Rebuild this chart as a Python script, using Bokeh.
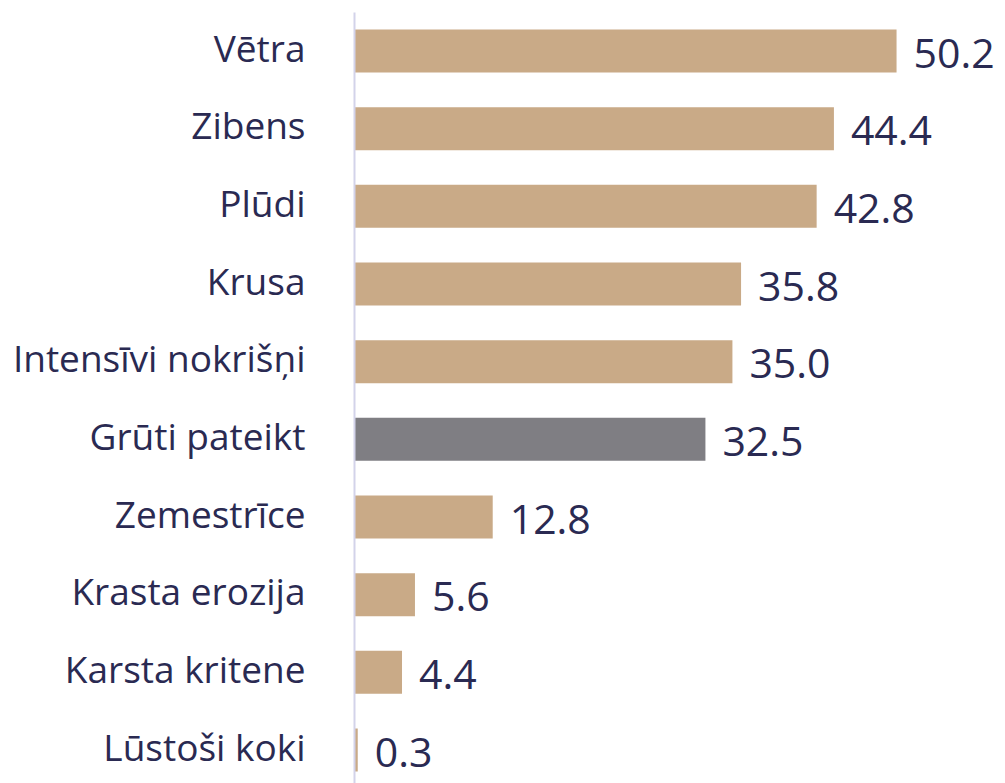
from bokeh.plotting import figure
from bokeh.models import ColumnDataSource, Range1d, FixedTicker, CustomJSTickFormatter
from bokeh.core.properties import value
from bokeh.embed import file_html
from bokeh.resources import INLINE

categories = ["Vētra", "Zibens", "Plūdi", "Krusa", "Intensīvi nokrišņi",
              "Grūti pateikt", "Zemestrīce", "Krasta erozija", "Karsta kritene",
              "Lūstoši koki"]
values = [50.2, 44.4, 42.8, 35.8, 35.0, 32.5, 12.8, 5.6, 4.4, 0.3]
highlight = ["Grūti pateikt"]

TAN = "#c9aa87"
GRAY = "#7f7e83"
NAVY = "#2a2a52"

idx = list(range(len(categories)))
colors = [GRAY if c in highlight else TAN for c in categories]
labels = [f"{v:.1f}" for v in values]

src = ColumnDataSource(dict(y=idx, v=values, c=colors, lab=labels))

p = figure(width=1005, height=783, output_backend="svg", toolbar_location=None,
           x_range=Range1d(0, 60.29), y_range=Range1d(9.431, -0.4957),
           min_border_left=354, min_border_right=0, min_border_top=12,
           min_border_bottom=0)
p.outline_line_color = None
p.xgrid.visible = False
p.ygrid.visible = False
p.xaxis.visible = False
p.background_fill_color = "white"
p.border_fill_color = "white"

p.hbar(y="y", left=0, right="v", height=0.554, fill_color="c", line_color=None, source=src)
p.text(x="v", y="y", text="lab", source=src, x_offset=17, y_offset=2,
       text_font=value("Open Sans"), text_font_size="41px", text_color=NAVY,
       text_baseline="middle", text_align="left")

ax = p.yaxis[0]
ax.ticker = FixedTicker(ticks=[i - 0.05 for i in idx])
ax.formatter = CustomJSTickFormatter(args=dict(names=categories),
                                     code="return names[Math.round(tick)];")
ax.major_tick_in = 0
ax.major_tick_out = 0
ax.minor_tick_in = 0
ax.minor_tick_out = 0
ax.major_label_standoff = 49
ax.major_label_text_font = "Open Sans"
ax.major_label_text_font_size = "37px"
ax.major_label_text_color = NAVY
ax.axis_line_color = "#d3d3ea"
ax.axis_line_width = 2

open("out.html", "w").write(file_html(p, INLINE))
